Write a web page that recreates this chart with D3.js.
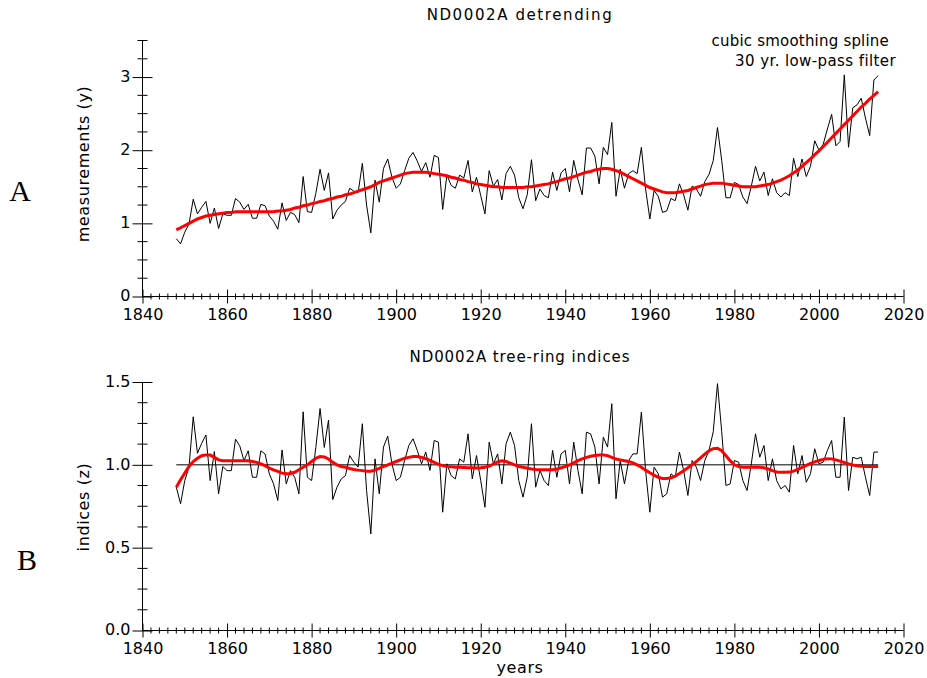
<!DOCTYPE html>
<html>
<head>
<meta charset="utf-8">
<script src="https://cdn.jsdelivr.net/npm/d3@7"></script>
<style>
  body { margin: 0; background: #fff; }
  text { font-family: "DejaVu Sans", sans-serif; fill: #000; }
</style>
</head>
<body>
<svg id="chart" width="927" height="678"></svg>
<script>
const firstYear = 1848;

// raw ring-width measurements (y), 1848-2014
const rawValues = [
  0.79, 0.72, 0.88, 0.99, 1.33, 1.13, 1.22, 1.30, 1.00, 1.21,
  0.93, 1.13, 1.11, 1.11, 1.34, 1.29, 1.19, 1.26, 1.07, 1.07,
  1.26, 1.24, 1.10, 1.03, 0.92, 1.28, 1.04, 1.15, 1.12, 1.01,
  1.64, 1.16, 1.15, 1.41, 1.74, 1.45, 1.69, 1.06, 1.18, 1.25,
  1.30, 1.48, 1.44, 1.42, 1.82, 1.25, 0.87, 1.59, 1.29, 1.75,
  1.88, 1.63, 1.48, 1.54, 1.72, 1.89, 1.97, 1.85, 1.71, 1.83,
  1.63, 1.93, 1.90, 1.19, 1.66, 1.52, 1.48, 1.66, 1.62, 1.86,
  1.43, 1.63, 1.38, 1.13, 1.72, 1.51, 1.60, 1.32, 1.68, 1.78,
  1.66, 1.35, 1.20, 1.39, 1.87, 1.31, 1.47, 1.38, 1.35, 1.70,
  1.45, 1.69, 1.75, 1.43, 1.86, 1.60, 1.39, 2.03, 2.03, 1.92,
  1.54, 2.04, 1.94, 2.38, 1.37, 1.74, 1.48, 1.68, 1.72, 1.68,
  2.04, 1.47, 1.06, 1.45, 1.37, 1.15, 1.17, 1.34, 1.31, 1.54,
  1.39, 1.18, 1.51, 1.47, 1.37, 1.57, 1.67, 1.86, 2.31, 1.86,
  1.35, 1.35, 1.56, 1.53, 1.36, 1.27, 1.51, 1.78, 1.58, 1.70,
  1.38, 1.61, 1.42, 1.36, 1.42, 1.38, 1.89, 1.64, 1.88, 1.64,
  1.78, 2.13, 2.00, 2.08, 2.29, 2.49, 2.06, 2.12, 3.03, 2.04,
  2.58, 2.62, 2.71, 2.44, 2.20, 2.96, 3.02
];

// cubic smoothing spline, 30 yr low-pass
const rawSpline = [
  0.91, 0.94, 0.97, 1.00, 1.03, 1.06, 1.08, 1.10, 1.11, 1.12,
  1.13, 1.14, 1.15, 1.15, 1.16, 1.16, 1.16, 1.16, 1.16, 1.16,
  1.16, 1.16, 1.16, 1.16, 1.17, 1.17, 1.18, 1.19, 1.21, 1.22,
  1.24, 1.25, 1.27, 1.28, 1.30, 1.31, 1.33, 1.34, 1.36, 1.37,
  1.39, 1.40, 1.42, 1.44, 1.46, 1.48, 1.50, 1.53, 1.56, 1.58,
  1.60, 1.62, 1.64, 1.66, 1.68, 1.69, 1.70, 1.70, 1.70, 1.70,
  1.69, 1.68, 1.67, 1.66, 1.65, 1.63, 1.62, 1.60, 1.59, 1.57,
  1.56, 1.54, 1.53, 1.52, 1.51, 1.50, 1.50, 1.49, 1.49, 1.49,
  1.49, 1.49, 1.49, 1.50, 1.50, 1.51, 1.52, 1.53, 1.54, 1.56,
  1.57, 1.59, 1.61, 1.62, 1.64, 1.66, 1.68, 1.70, 1.71, 1.73,
  1.74, 1.75, 1.75, 1.74, 1.72, 1.70, 1.67, 1.64, 1.61, 1.58,
  1.55, 1.52, 1.49, 1.47, 1.45, 1.43, 1.42, 1.42, 1.42, 1.43,
  1.44, 1.45, 1.47, 1.49, 1.51, 1.53, 1.54, 1.55, 1.55, 1.55,
  1.54, 1.53, 1.52, 1.51, 1.50, 1.50, 1.50, 1.50, 1.51, 1.52,
  1.53, 1.55, 1.57, 1.59, 1.62, 1.65, 1.69, 1.73, 1.78, 1.83,
  1.88, 1.94, 1.99, 2.05, 2.11, 2.17, 2.23, 2.29, 2.35, 2.41,
  2.47, 2.53, 2.59, 2.64, 2.70, 2.75, 2.80
];

// tree-ring indices (z)
const indexValues = [
  0.865, 0.765, 0.905, 0.986, 1.29, 1.07, 1.13, 1.18, 0.905, 1.08,
  0.825, 0.99, 0.965, 0.965, 1.155, 1.115, 1.025, 1.085, 0.925, 0.925,
  1.085, 1.065, 0.945, 0.885, 0.785, 1.09, 0.885, 0.965, 0.925, 0.825,
  1.32, 0.925, 0.905, 1.105, 1.34, 1.105, 1.27, 0.79, 0.865, 0.915,
  0.935, 1.056, 1.016, 0.986, 1.248, 0.845, 0.583, 1.036, 0.825, 1.107,
  1.173, 1.006, 0.905, 0.925, 1.026, 1.117, 1.157, 1.087, 1.006, 1.077,
  0.966, 1.147, 1.137, 0.714, 1.006, 0.935, 0.915, 1.036, 1.016, 1.187,
  0.915, 1.056, 0.905, 0.744, 1.137, 1.006, 1.066, 0.885, 1.127, 1.197,
  1.117, 0.905, 0.805, 0.925, 1.248, 0.865, 0.966, 0.905, 0.875, 1.087,
  0.925, 1.066, 1.087, 0.885, 1.137, 0.966, 0.825, 1.197, 1.187, 1.107,
  0.885, 1.167, 1.107, 1.369, 0.795, 1.026, 0.885, 1.026, 1.066, 1.066,
  1.318, 0.966, 0.714, 0.986, 0.946, 0.805, 0.825, 0.946, 0.925, 1.077,
  0.966, 0.815, 1.026, 0.986, 0.905, 1.026, 1.087, 1.2, 1.49, 1.2,
  0.875, 0.885, 1.026, 1.016, 0.905, 0.845, 1.006, 1.187, 1.046, 1.117,
  0.905, 1.036, 0.905, 0.855, 0.875, 0.835, 1.117, 0.946, 1.056, 0.895,
  0.946, 1.097, 1.006, 1.016, 1.087, 1.147, 0.925, 0.925, 1.288, 0.845,
  1.046, 1.036, 1.046, 0.925, 0.815, 1.077, 1.077
];

// smoothing spline of the indices
const indexSpline = [
  0.865, 0.91, 0.95, 0.99, 1.02, 1.04, 1.055, 1.06, 1.06, 1.045,
  1.03, 1.025, 1.025, 1.025, 1.025, 1.025, 1.025, 1.025, 1.02, 1.015,
  1.005, 0.995, 0.98, 0.97, 0.96, 0.95, 0.946, 0.948, 0.955, 0.97,
  0.985, 1.0, 1.02, 1.04, 1.05, 1.048, 1.035, 1.015, 1.0, 0.99,
  0.985, 0.978, 0.972, 0.968, 0.965, 0.962, 0.962, 0.968, 0.978, 0.99,
  1.0, 1.01, 1.02, 1.03, 1.04, 1.045, 1.05, 1.05, 1.045, 1.037,
  1.027, 1.015, 1.003, 0.995, 0.99, 0.988, 0.986, 0.985, 0.984, 0.983,
  0.982, 0.981, 0.982, 0.985, 0.993, 1.005, 1.018, 1.025, 1.02, 1.01,
  1.0, 0.99, 0.985, 0.98, 0.975, 0.972, 0.97, 0.97, 0.97, 0.97,
  0.975, 0.982, 0.99, 1.0, 1.012, 1.025, 1.036, 1.045, 1.052, 1.057,
  1.06, 1.06, 1.055, 1.045, 1.035, 1.03, 1.025, 1.02, 1.012, 1.0,
  0.985, 0.968, 0.952, 0.938, 0.925, 0.918, 0.918, 0.922, 0.932, 0.948,
  0.965, 0.982, 1.0, 1.02, 1.042, 1.065, 1.085, 1.098, 1.1, 1.085,
  1.055, 1.025, 1.0, 0.99, 0.986, 0.985, 0.986, 0.987, 0.986, 0.982,
  0.975, 0.965, 0.957, 0.955, 0.955, 0.956, 0.962, 0.972, 0.985, 0.997,
  1.008, 1.018, 1.026, 1.033, 1.037, 1.036, 1.03, 1.022, 1.014, 1.006,
  0.999, 0.995, 0.992, 0.99, 0.99, 0.99, 0.99
];

const years = rawValues.map((d, i) => firstYear + i);
const xMajor = d3.range(1840, 2021, 20);
const xMinor = d3.range(1840, 2021, 2);

const svg = d3.select("#chart");

const x = d3.scaleLinear().domain([1840, 2020]).range([142.5, 903.5]);
const yTop = d3.scaleLinear().domain([0, 3.5]).range([296.5, 40.5]);
const yBot = d3.scaleLinear().domain([0, 1.5]).range([630.5, 382]);

function drawPanel(y, majors, minors, fmt, baseY) {
  const g = svg.append("g");

  // y axis, ticks cross the line
  const ya = g.append("g")
    .attr("transform", `translate(${x(1840)},0)`)
    .call(d3.axisLeft(y).tickValues(majors).tickSize(10).tickPadding(4).tickFormat(fmt));
  ya.select(".domain").attr("d", `M0,${y.range()[0]}V${y.range()[1]}`);
  ya.selectAll(".tick line").attr("x1", 10);
  ya.selectAll(".tick text").attr("x", -12).attr("dy", "0.28em")
    .style("font-size", "16px").style("font-family", "DejaVu Sans");
  g.selectAll(".ymin").data(minors).enter().append("line")
    .attr("x1", x(1840) - 5).attr("x2", x(1840) + 5)
    .attr("y1", d => y(d)).attr("y2", d => y(d))
    .attr("stroke", "#000");

  // x axis
  const xa = g.append("g")
    .attr("transform", `translate(0,${baseY})`)
    .call(d3.axisBottom(x).tickValues(xMajor).tickSize(7).tickPadding(5).tickFormat(d3.format("d")));
  xa.select(".domain").attr("d", `M${x.range()[0]},0H${x.range()[1]}`);
  xa.selectAll(".tick line").attr("y1", -7);
  xa.selectAll(".tick text").style("font-size", "16px").style("font-family", "DejaVu Sans");
  g.selectAll(".xmin").data(xMinor.filter(d => d % 20 !== 0)).enter().append("line")
    .attr("x1", d => x(d)).attr("x2", d => x(d))
    .attr("y1", baseY - 3).attr("y2", baseY + 3)
    .attr("stroke", "#000");
  return g;
}

const fmtTop = d3.format("d");
const fmtBot = d3.format(".1f");

const topPanel = drawPanel(yTop, [0, 1, 2, 3], d3.range(0.25, 3.51, 0.25).filter(d => d % 1 !== 0), fmtTop, yTop(0));
const botPanel = drawPanel(yBot, [0, 0.5, 1, 1.5], d3.range(0.125, 1.5, 0.125).filter(d => (d * 2) % 1 !== 0), fmtBot, yBot(0));

const lineTop = d3.line().x((d, i) => x(years[i])).y(d => yTop(d));
const lineBot = d3.line().x((d, i) => x(years[i])).y(d => yBot(d));

topPanel.append("path").datum(rawValues).attr("d", lineTop)
  .attr("fill", "none").attr("stroke", "#000").attr("stroke-width", 1);
topPanel.append("path").datum(rawSpline).attr("d", lineTop)
  .attr("fill", "none").attr("stroke", "#ff0000").attr("stroke-width", 3);

botPanel.append("line")
  .attr("x1", x(years[0])).attr("x2", x(years[years.length - 1]))
  .attr("y1", yBot(1)).attr("y2", yBot(1))
  .attr("stroke", "#000");
botPanel.append("path").datum(indexValues).attr("d", lineBot)
  .attr("fill", "none").attr("stroke", "#000").attr("stroke-width", 1);
botPanel.append("path").datum(indexSpline).attr("d", lineBot)
  .attr("fill", "none").attr("stroke", "#ff0000").attr("stroke-width", 3);

// titles and labels
const label = (t, px, py, opts = {}) => svg.append("text")
  .attr("x", px).attr("y", py)
  .attr("text-anchor", opts.anchor || "middle")
  .attr("transform", opts.rotate ? `rotate(-90,${px},${py})` : null)
  .style("font-size", (opts.size || 15) + "px")
  .style("letter-spacing", (opts.ls || 0.6) + "px")
  .style("font-family", opts.family || "DejaVu Sans")
  .text(t);

label("ND0002A detrending", 520, 20, { ls: 1.6 });
label("cubic smoothing spline", 889, 46, { anchor: "end", ls: 0.2 });
label("30 yr. low-pass filter", 896, 66, { anchor: "end", ls: 0.4 });
label("measurements (y)", 89, 164, { rotate: true, size: 16 });
label("ND0002A tree-ring indices", 520, 362, { ls: 0.9 });
label("indices (z)", 89, 507, { rotate: true, size: 16 });
label("years", 520, 673, { size: 16 });
label("A", 20, 201, { size: 30, family: "Liberation Serif", ls: 0.01 });
label("B", 27, 570, { size: 30, family: "Liberation Serif", ls: 0.01 });
</script>
</body>
</html>
